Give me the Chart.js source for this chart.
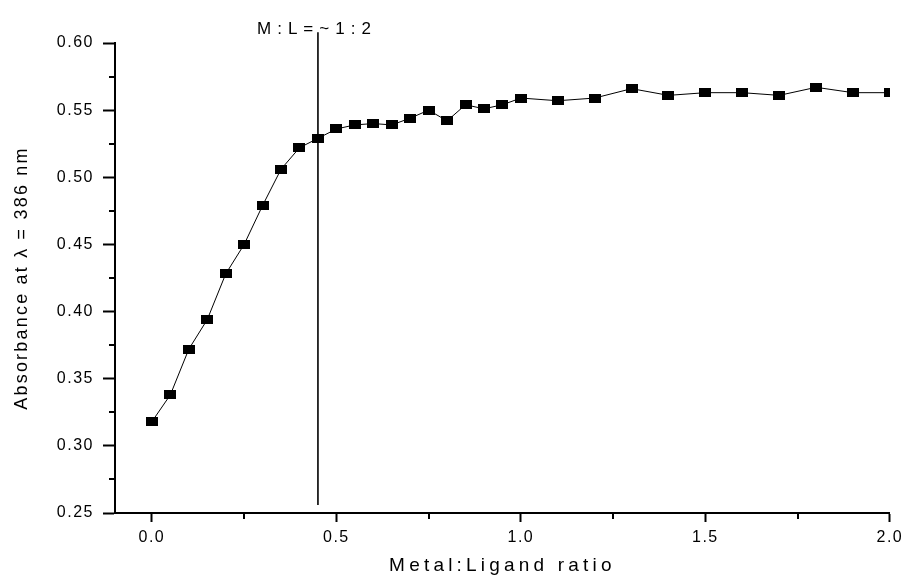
<!DOCTYPE html>
<html>
<head>
<meta charset="utf-8">
<script src="https://cdn.jsdelivr.net/npm/chart.js@4.4.0/dist/chart.umd.min.js"></script>
<style>
  html, body { margin: 0; padding: 0; background: #fff; }
</style>
</head>
<body>
<canvas id="chart" width="907" height="578"></canvas>
<script>
// data
const ratio = [0, 0.05, 0.10, 0.15, 0.20, 0.25, 0.30, 0.35, 0.40, 0.45, 0.50, 0.55, 0.60, 0.65,
  0.70, 0.75, 0.80, 0.85, 0.90, 0.95, 1.0, 1.1, 1.2, 1.3, 1.4, 1.5, 1.6, 1.7, 1.8, 1.9, 2.0];
const absorbance = [0.318, 0.338, 0.372, 0.394, 0.428, 0.450, 0.479, 0.506, 0.522, 0.529, 0.536,
  0.539, 0.540, 0.539, 0.544, 0.550, 0.542, 0.554, 0.551, 0.554, 0.559, 0.557, 0.559, 0.566,
  0.561, 0.563, 0.563, 0.561, 0.567, 0.563, 0.563];

const xMajor = [0, 0.5, 1.0, 1.5, 2.0];
const xMinor = [0.25, 0.75, 1.25, 1.75];
const yMajor = [0.25, 0.30, 0.35, 0.40, 0.45, 0.50, 0.55, 0.60];
const yMinor = [0.275, 0.325, 0.375, 0.425, 0.475, 0.525, 0.575];

// vertical marker line at the break point
const markX = [0.45, 0.45];
const markY = [0.256, 0.608];
const markText = 'M:L=~1:2';

const xTitle = 'Metal:Ligand ratio';
const yTitle = 'Absorbance at \u03bb = 386 nm';

const FONT = '"Liberation Sans", Arial, sans-serif';

// small filled rectangle used as point marker
const marker = document.createElement('canvas');
marker.width = 12;
marker.height = 9;
{
  const m = marker.getContext('2d');
  m.fillStyle = '#000';
  m.fillRect(0, 0, 12, 9);
}

// minor ticks, titles and the annotation text
const extrasPlugin = {
  id: 'extras',
  beforeDraw(chart) {
    chart.ctx.letterSpacing = '1.5px'; // spaced-out tick labels like the original
  },
  afterDraw(chart) {
    const { ctx, chartArea, scales } = chart;
    const xs = scales.x, ys = scales.y;
    ctx.save();
    ctx.strokeStyle = '#000';
    ctx.lineWidth = 2;
    ctx.beginPath();
    xMinor.forEach(v => {
      const px = Math.round(xs.getPixelForValue(v));
      ctx.moveTo(px, chartArea.bottom);
      ctx.lineTo(px, chartArea.bottom + 6);
    });
    yMinor.forEach(v => {
      const py = Math.round(ys.getPixelForValue(v));
      ctx.moveTo(chartArea.left, py);
      ctx.lineTo(chartArea.left - 6, py);
    });
    ctx.stroke();

    ctx.fillStyle = '#000';
    ctx.textAlign = 'center';

    // annotation above the vertical line
    ctx.letterSpacing = '6px';
    ctx.font = '17px ' + FONT;
    ctx.textBaseline = 'alphabetic';
    ctx.fillText(markText, xs.getPixelForValue(markX[0]) - 1, ys.getPixelForValue(markY[1]) + 2);

    // x title
    ctx.textBaseline = 'middle';
    ctx.letterSpacing = '4.2px';
    ctx.font = '19px ' + FONT;
    ctx.fillText(xTitle, (chartArea.left + chartArea.right) / 2, 566);

    // y title
    ctx.letterSpacing = '2.2px';
    ctx.font = '18px ' + FONT;
    ctx.translate(22, (chartArea.top + chartArea.bottom) / 2);
    ctx.rotate(-Math.PI / 2);
    ctx.fillText(yTitle, 0, 0);
    ctx.restore();
  }
};

new Chart(document.getElementById('chart'), {
  type: 'scatter',
  data: {
    datasets: [
      {
        data: ratio.map((x, i) => ({ x, y: absorbance[i] })),
        showLine: true,
        borderColor: '#000',
        borderWidth: 1,
        pointStyle: marker,
        pointRadius: 6,
        pointHoverRadius: 6,
        backgroundColor: '#000'
      },
      {
        data: markX.map((x, i) => ({ x, y: markY[i] })),
        showLine: true,
        borderColor: '#000',
        borderWidth: 1.6,
        pointRadius: 0,
        clip: false
      }
    ]
  },
  plugins: [extrasPlugin],
  options: {
    responsive: false,
    animation: false,
    events: [],
    layout: { padding: { left: 0, right: 14, top: 43, bottom: 0 } },
    plugins: {
      legend: { display: false },
      tooltip: { enabled: false }
    },
    scales: {
      x: {
        type: 'linear',
        min: -0.1,
        max: 2.0,
        afterBuildTicks: s => { s.ticks = xMajor.map(v => ({ value: v })); },
        afterFit: s => { s.height = 65; },
        grid: { drawOnChartArea: false, tickLength: 9, tickWidth: 2, tickColor: '#000' },
        border: { color: '#000', width: 2 },
        ticks: {
          color: '#000',
          font: { family: FONT, size: 16 },
          padding: 6,
          maxRotation: 0,
          callback: v => v.toFixed(1)
        }
      },
      y: {
        type: 'linear',
        min: 0.25,
        max: 0.60,
        afterBuildTicks: s => { s.ticks = yMajor.map(v => ({ value: v })); },
        afterFit: s => { s.width = 115; },
        grid: { drawOnChartArea: false, tickLength: 12, tickWidth: 2, tickColor: '#000' },
        border: { color: '#000', width: 2 },
        ticks: {
          color: '#000',
          font: { family: FONT, size: 16 },
          padding: 9,
          callback: v => v.toFixed(2)
        }
      }
    }
  }
});
</script>
</body>
</html>
